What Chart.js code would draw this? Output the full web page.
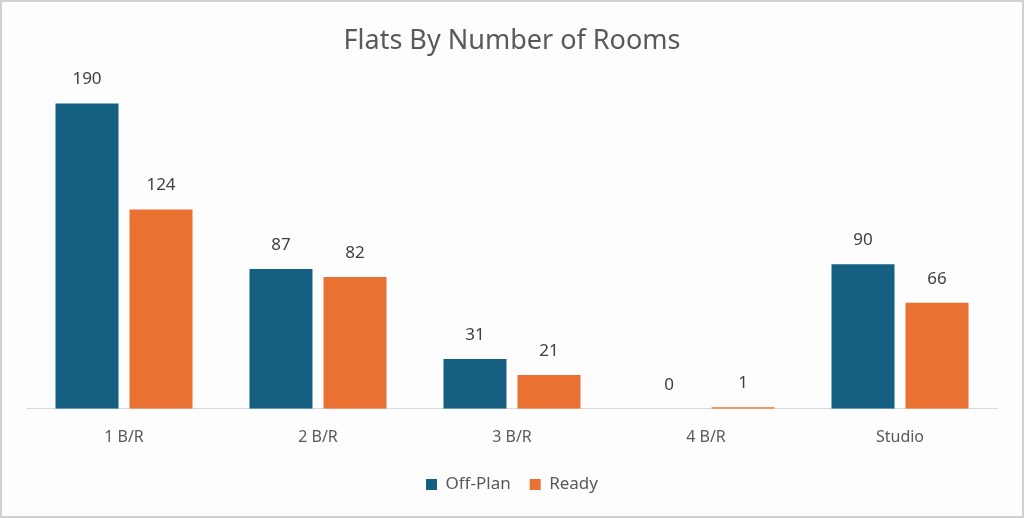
<!DOCTYPE html>
<html>
<head>
<meta charset="utf-8">
<script src="https://cdn.jsdelivr.net/npm/chart.js@4.4.1/dist/chart.umd.min.js"></script>
<style>
    html, body { margin: 0; padding: 0; background: #ffffff; }
    #wrap {
        width: 1024px; height: 518px; box-sizing: border-box;
        border: 2px solid #d0d0d0; background: #fdfdfd;
    }
</style>
</head>
<body>
<div id="wrap"><canvas id="mycanvas"></canvas></div>
<script>
// chart data
var roomTypes = ["1 B/R", "2 B/R", "3 B/R", "4 B/R", "Studio"];
var offPlanFlats = [190, 87, 31, 0, 90];
var readyFlats = [124, 82, 21, 1, 66];

// draws the value over every bar
var valueLabels = {
    id: "valueLabels",
    afterDatasetsDraw: function (chart) {
        var ctx = chart.ctx;
        ctx.save();
        ctx.font = "17px 'Noto Sans'";
        ctx.fillStyle = "#404040";
        ctx.textAlign = "center";
        ctx.textBaseline = "middle";
        chart.data.datasets.forEach(function (ds, i) {
            chart.getDatasetMeta(i).data.forEach(function (bar, j) {
                ctx.fillText(ds.data[j], bar.x, bar.y - 24);
            });
        });
        ctx.restore();
    }
};

var ctx = document.getElementById("mycanvas");

var barGraph = new Chart(ctx, {
    type: "bar",
    data: {
        labels: roomTypes,
        datasets: [{
            label: "Off-Plan",
            backgroundColor: "#156082",
            data: offPlanFlats
        }, {
            label: "Ready",
            backgroundColor: "#e97132",
            data: readyFlats
        }]
    },
    options: {
        responsive: true,
        maintainAspectRatio: false,
        animation: false,
        layout: { padding: { left: 25, right: 25, top: 0, bottom: 13 } },
        datasets: {
            bar: { categoryPercentage: 0.763, barPercentage: 0.851 }
        },
        scales: {
            x: {
                grid: { display: false, drawTicks: false },
                border: { display: true, color: "#d9d9d9", width: 1 },
                ticks: { color: "#595959", font: { family: "Noto Sans", size: 16 }, padding: 19 },
                afterFit: function (scale) { scale.height -= 9; }
            },
            y: {
                display: false,
                min: 0,
                max: 200
            }
        },
        plugins: {
            title: {
                display: true,
                text: "Flats By Number of Rooms",
                color: "#595959",
                font: { family: "Noto Sans", size: 27, weight: "normal" },
                padding: { top: 23, bottom: 30 }
            },
            legend: {
                position: "bottom",
                labels: {
                    color: "#595959",
                    font: { family: "Noto Sans", size: 17 },
                    boxWidth: 11,
                    boxHeight: 11,
                    padding: 19
                }
            },
            tooltip: { enabled: false }
        }
    },
    plugins: [valueLabels]
});
</script>
</body>
</html>
